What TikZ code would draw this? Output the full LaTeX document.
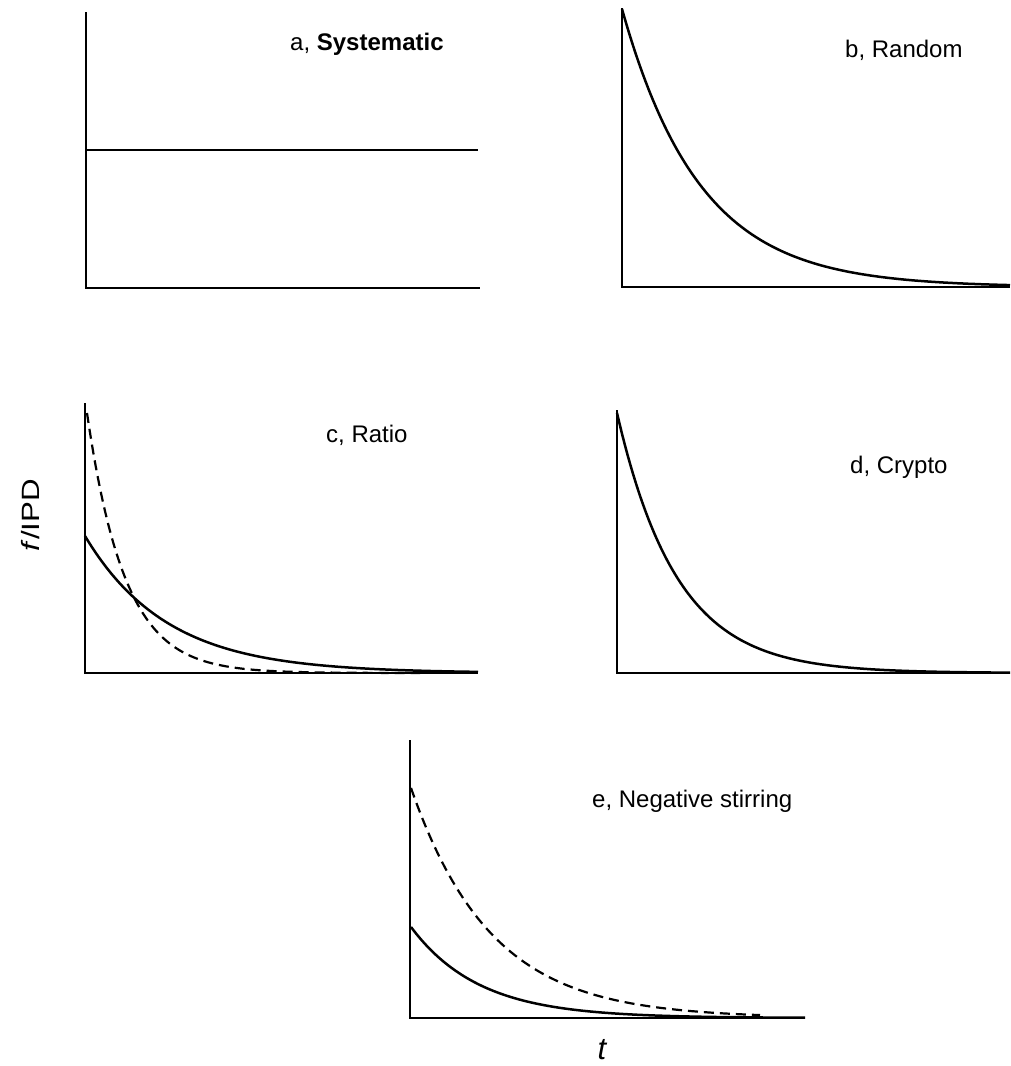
\documentclass[tikz,border=0pt]{standalone}
\usepackage{fontspec}
\setmainfont{Liberation Sans}
\begin{document}
\begin{tikzpicture}[x=1pt,y=-1pt,
  axis/.style={line width=2.5pt},
  curve/.style={line width=2.5pt, line join=round},
  dcurve/.style={line width=2.2pt, dash pattern=on 10pt off 6pt},
  lab/.style={anchor=base west, inner sep=0pt, font=\fontsize{24}{28}\selectfont}]
\useasboundingbox (0,0) rectangle (1010,1066);
% panel a
\coordinate (aT) at (86,12); \coordinate (aO) at (86,288); \coordinate (aR) at (480,288);
\draw[axis] (aT) -- (aO) -- (aR);
\draw[curve] (86,150) -- (478,150);
\node[lab] (la) at (290,50) {a, \textbf{Systematic}};
% panel b
\coordinate (bT) at (622,8); \coordinate (bO) at (622,287); \coordinate (bR) at (1010,287);
\draw[axis] (bT) -- (bO) -- (bR);
\draw[curve] plot[domain=622:1010, samples=150] (\x, {287-278*exp(-(\x-622)/78)});
\node[lab] (lb) at (845,57) {b, Random};
% panel c
\coordinate (cT) at (85,403); \coordinate (cO) at (85,673); \coordinate (cR) at (478,673);
\draw[axis] (cT) -- (cO) -- (cR);
\draw[curve] plot[domain=85:478, samples=150] (\x, {673-137*exp(-(\x-85)/82)});
\draw[dcurve] plot[domain=87:420, samples=150] (\x, {673-260*exp(-(\x-87)/38)});
\node[lab] (lc) at (326,442) {c, Ratio};
% panel d
\coordinate (dT) at (617,410); \coordinate (dO) at (617,673); \coordinate (dR) at (1010,673);
\draw[axis] (dT) -- (dO) -- (dR);
\draw[curve] plot[domain=617:1010, samples=150] (\x, {673-260*exp(-(\x-617)/60)});
\node[lab] (ld) at (850,473) {d, Crypto};
% panel e
\coordinate (eT) at (410,740); \coordinate (eO) at (410,1018); \coordinate (eR) at (805,1018);
\draw[axis] (eT) -- (eO) -- (eR);
\draw[curve] plot[domain=411:805, samples=150] (\x, {1018-91*exp(-(\x-411)/68)});
\draw[dcurve] plot[domain=411:760, samples=150] (\x, {1018-230*exp(-(\x-411)/80)});
\node[lab] (le) at (592,807) {e, Negative stirring};
% axis titles
\node[anchor=base, inner sep=0pt, rotate=90, font=\fontsize{25}{30}\selectfont] (fy) at (39,515) {\scalebox{1.25}[1]{\textit{f}/IPD}};
\node[anchor=base, inner sep=0pt, font=\fontsize{31}{36}\selectfont\itshape] (tx) at (602,1059) {t};
\end{tikzpicture}
\end{document}
